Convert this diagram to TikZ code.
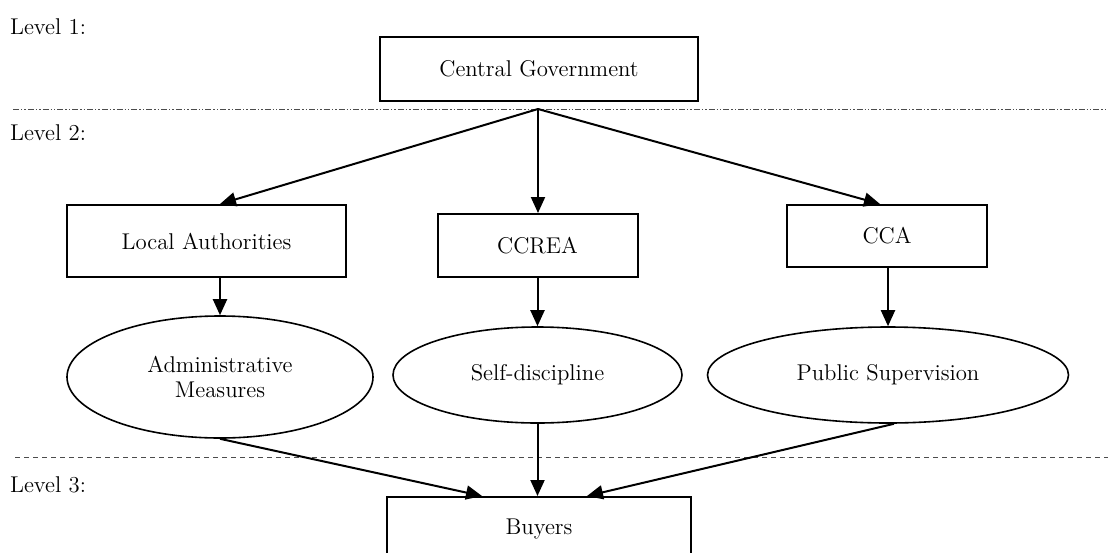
\documentclass[tikz,border=0pt]{standalone}
\usepackage{tikz}
\usetikzlibrary{arrows.meta,shapes}

\begin{document}
\begin{tikzpicture}[x=0.5pt, y=-0.5pt,
  every node/.style={font=\fontsize{11.4}{12.5}\selectfont}]
\tikzstyle{box} = [rectangle, draw=black, line width=1pt, text centered]
\tikzstyle{oval} = [ellipse, draw=black, line width=0.8pt, align=center,
  inner sep=0pt]
\tikzstyle{link} = [line width=1pt, -{Triangle[length=8pt, width=7pt]}]
\tikzstyle{levelsep} = [line width=0.45pt, black!70]

\useasboundingbox (0,0) rectangle (1108,552);

% levels
\node[anchor=west] (lev1) at (3,27) {Level 1:};
\node[anchor=west] (lev2) at (3,133) {Level 2:};
\node[anchor=west] (lev3) at (3,485) {Level 3:};
\draw[levelsep, dash pattern=on 3pt off 1pt on 0.7pt off 1pt on 0.7pt off 1pt]
  (13,109) -- (1108,109);
\draw[levelsep, dash pattern=on 2.5pt off 2pt] (15,457) -- (1108,457);

\node[box, minimum width=159pt, minimum height=32pt] (cg) at (539,69)
  {Central Government};

\node[box, minimum width=139.5pt, minimum height=36pt] (la) at (206.5,241)
  {Local Authorities};
\node[box, minimum width=100pt, minimum height=31.5pt] (ccrea) at (537.5,245.5)
  {CCREA};
\node[box, minimum width=100pt, minimum height=31pt] (cca) at (887,236)
  {CCA};

\node[oval, minimum width=153pt, minimum height=61pt] (adm) at (220,377)
  {Administrative\\Measures};
\node[oval, minimum width=144.5pt, minimum height=48pt] (self) at (537.5,375)
  {Self-discipline};
\node[oval, minimum width=180.5pt, minimum height=48pt] (pub) at (888,375)
  {Public Supervision};

\node[box, minimum width=152pt, minimum height=32pt] (buy) at (539,529)
  {Buyers};

\coordinate (fork) at (538,109);
\draw[link] (fork) -- (la.north -| adm.north);
\draw[link] (fork) -- (fork |- ccrea.north);
\draw[link] (fork) -- ([xshift=-3.5pt]cca.north);

\draw[link] (la.south -| adm.north) -- (adm.north);
\draw[link] (ccrea.south) -- (self.north);
\draw[link] (cca.south -| pub.north) -- (pub.north);

\draw[link] (adm.south) -- ([xshift=-28.5pt]buy.north);
\draw[link] (self.south) -- (self.south |- buy.north);
\draw[link] ([xshift=3pt]pub.south) -- ([xshift=24pt]buy.north);
\end{tikzpicture}
\end{document}
